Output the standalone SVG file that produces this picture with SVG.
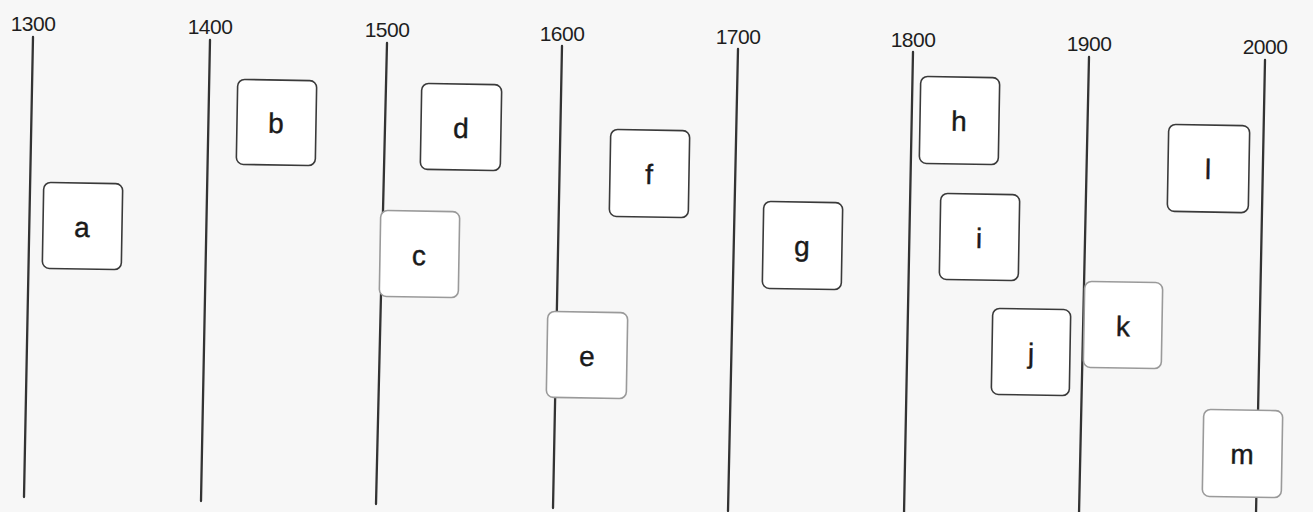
<svg xmlns="http://www.w3.org/2000/svg" width="1313" height="512" viewBox="0 0 1313 512">
<style>
.bg{fill:#f7f7f7}
.ax{stroke:#333333;stroke-width:2.3;stroke-linecap:round;fill:none}
.yr{font-family:"Liberation Sans",Arial,sans-serif;font-size:21px;fill:#1e1e1e;text-anchor:middle;letter-spacing:-0.5px}
.bx rect{fill:#ffffff;stroke:#3a3a3a;stroke-width:1.6}
.bx.lt rect{stroke:#9a9a9a}
.bx text{font-family:"Liberation Sans",Arial,sans-serif;font-size:28px;fill:#1a1a1a;stroke:#1a1a1a;stroke-width:0.4;text-anchor:middle}
</style>
<rect class="bg" x="0" y="0" width="1313" height="512"/>
<g id="axes">
<line class="ax" x1="33" y1="37" x2="24" y2="497"/>
<line class="ax" x1="210" y1="40" x2="201" y2="501"/>
<line class="ax" x1="387" y1="43" x2="376" y2="504"/>
<line class="ax" x1="562" y1="46" x2="553" y2="508"/>
<line class="ax" x1="738" y1="49" x2="728" y2="511"/>
<line class="ax" x1="913" y1="52" x2="904" y2="514"/>
<line class="ax" x1="1089" y1="57" x2="1079" y2="514"/>
<line class="ax" x1="1265" y1="60" x2="1256" y2="514"/>
</g>
<g id="years">
<text class="yr" x="33" y="31">1300</text>
<text class="yr" x="210" y="34">1400</text>
<text class="yr" x="387" y="37">1500</text>
<text class="yr" x="562" y="41">1600</text>
<text class="yr" x="738" y="44">1700</text>
<text class="yr" x="913" y="47">1800</text>
<text class="yr" x="1089" y="51">1900</text>
<text class="yr" x="1265" y="54">2000</text>
</g>
<g id="a" class="bx" transform="rotate(1 82 226)"><rect x="43" y="183" width="79" height="86" rx="7"/><text x="82" y="237">a</text></g>
<g id="b" class="bx" transform="rotate(1 276 122)"><rect x="237" y="80" width="79" height="85" rx="7"/><text x="276" y="133">b</text></g>
<g id="c" class="bx lt" transform="rotate(1 419 254)"><rect x="380" y="211" width="79" height="86" rx="7"/><text x="419" y="265">c</text></g>
<g id="d" class="bx" transform="rotate(1 461 127)"><rect x="421" y="84" width="80" height="86" rx="7"/><text x="461" y="138">d</text></g>
<g id="e" class="bx lt" transform="rotate(1 587 355)"><rect x="547" y="312" width="80" height="86" rx="7"/><text x="587" y="366">e</text></g>
<g id="f" class="bx" transform="rotate(1 649 173)"><rect x="610" y="130" width="79" height="87" rx="7"/><text x="649" y="184">f</text></g>
<g id="g" class="bx" transform="rotate(1 802 245)"><rect x="763" y="202" width="79" height="87" rx="7"/><text x="802" y="256">g</text></g>
<g id="h" class="bx" transform="rotate(1 959 120)"><rect x="920" y="77" width="79" height="87" rx="7"/><text x="959" y="131">h</text></g>
<g id="i" class="bx" transform="rotate(1 979 237)"><rect x="940" y="194" width="79" height="86" rx="7"/><text x="979" y="248">i</text></g>
<g id="j" class="bx" transform="rotate(1 1031 352)"><rect x="992" y="309" width="78" height="86" rx="7"/><text x="1031" y="363">j</text></g>
<g id="k" class="bx lt" transform="rotate(1 1123 325)"><rect x="1084" y="282" width="78" height="86" rx="7"/><text x="1123" y="336">k</text></g>
<g id="l" class="bx" transform="rotate(1 1208 168)"><rect x="1168" y="125" width="81" height="87" rx="7"/><text x="1208" y="179">l</text></g>
<g id="m" class="bx lt" transform="rotate(1 1242 453)"><rect x="1203" y="410" width="79" height="87" rx="7"/><text x="1242" y="464">m</text></g>
</svg>
